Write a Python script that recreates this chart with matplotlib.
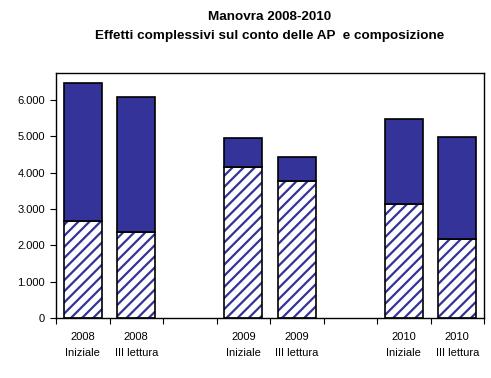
import numpy as np
import matplotlib.pyplot as plt
from matplotlib.ticker import FuncFormatter

categories = ['2008\nIniziale', '2008\nIII lettura', '',
              '2009\nIniziale', '2009\nIII lettura', '',
              '2010\nIniziale', '2010\nIII lettura']
totale = [6480, 6090, np.nan, 4960, 4420, np.nan, 5470, 4990]
quota = [2670, 2360, np.nan, 4150, 3760, np.nan, 3130, 2170]

blu = '#333399'
plt.rcParams['font.family'] = ['Liberation Sans', 'DejaVu Sans']
plt.rcParams['hatch.linewidth'] = 1.6

fig = plt.figure(figsize=(4.91, 3.78), dpi=100)
ax = fig.add_axes([56 / 491, 60 / 378, 428 / 491, 244.7 / 378])

x = np.arange(len(categories))
quota_arr = np.array(quota)
resto = np.array(totale) - quota_arr
w = 0.71

ax.bar(x, quota_arr, w, facecolor='white', edgecolor=blu, hatch='///', linewidth=0)
ax.bar(x, quota_arr, w, fill=False, edgecolor='black', linewidth=1.2)
ax.bar(x, resto, w, bottom=quota_arr, color=blu, edgecolor='black', linewidth=1.2)

ax.set_xlim(-0.5, len(categories) - 0.5)
ax.set_ylim(0, 6735)
ax.set_yticks(np.arange(0, 7000, 1000))
ax.yaxis.set_major_formatter(FuncFormatter(lambda v, p: f'{int(v):,}'.replace(',', '.')))
ax.set_xticks(np.arange(-0.5, len(categories), 1))
ax.set_xticklabels([])
ax.set_xticks(x, minor=True)
ax.set_xticklabels(categories, minor=True, fontsize=8, linespacing=1.75)
ax.tick_params(axis='x', which='minor', length=0, pad=10)
ax.tick_params(axis='x', which='major', length=4, direction='out', width=0.8)
ax.tick_params(axis='y', length=4, direction='out', width=0.8, labelsize=8, pad=4)
for s in ax.spines.values():
    s.set_linewidth(1.0)

cx = (56 + 484) / 2 / 491
fig.text(cx, 1 - 17 / 378, 'Manovra 2008-2010', ha='center', va='center',
         fontsize=9.7, fontweight='bold')
fig.text(cx, 1 - 36 / 378, 'Effetti complessivi sul conto delle AP  e composizione',
         ha='center', va='center', fontsize=9.7, fontweight='bold')

fig.savefig('out.png', dpi=100)
